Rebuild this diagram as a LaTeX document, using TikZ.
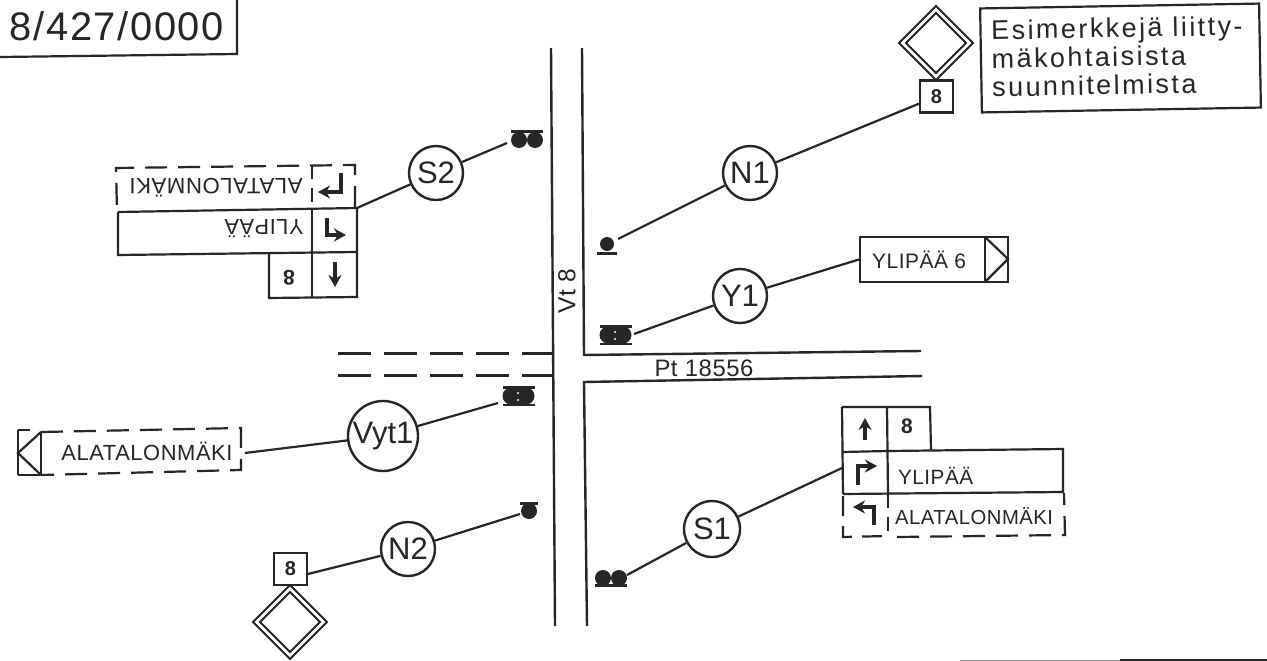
\documentclass[tikz,border=0pt]{standalone}
\usepackage{fontspec}
\usepackage{graphicx}
\setmainfont{Liberation Sans}
\newfontfamily\lsp[LetterSpace=2.5]{Liberation Sans}
\newfontfamily\lspb[LetterSpace=4]{Liberation Sans}
\newfontfamily\lspt[LetterSpace=9]{Liberation Sans}
\newcommand{\fitw}[2]{\resizebox{#1pt}{!}{\fontsize{20}{24}\lsp #2}}
\definecolor{ink}{HTML}{262626}
\usetikzlibrary{arrows.meta}
\tikzset{
  every path/.style={line width=2.2pt,color=ink,line join=miter},
  rd/.style={line width=2.4pt},
  sig/.style={draw=none,fill=ink},
  dsh/.style={dash pattern=on 22pt off 11pt},
  dshl/.style={dash pattern=on 14pt off 9pt},
  ring/.style={circle,draw=ink,line width=2.4pt,inner sep=0pt,minimum size=54pt,text=ink,font=\fontsize{31}{36}\selectfont},
  lbl/.style={inner sep=0pt,text=ink},
  rnum/.style={rectangle,draw=ink,line width=2.2pt,inner sep=0pt,minimum width=33pt,minimum height=32pt,text=ink,font=\fontsize{20}{24}\selectfont\bfseries},
  arr/.style={line width=3.4pt,-{Stealth[length=12pt,width=13pt]}},
}
\newcommand{\sigpair}[2]{%
  \fill[sig] (#1-16,#2-10) rectangle (#1+16,#2-7.5);
  \fill[sig] (#1-16,#2+7.5) rectangle (#1+16,#2+10);
  \fill[sig] (#1-8,#2) circle (8.5pt) (#1+7,#2) circle (8.5pt);
  \fill[sig] (#1-8,#2-8) rectangle (#1+7,#2+8);
  \fill[white] (#1-1,#2-3) circle (1.2pt) (#1-1,#2+4) circle (1.2pt);
}
\newcommand{\diam}[2]{%
  \draw[line width=2pt] (#1,#2-37) -- (#1+37,#2) -- (#1,#2+37) -- (#1-37,#2) -- cycle;
  \draw[line width=2pt] (#1,#2-30) -- (#1+30,#2) -- (#1,#2+30) -- (#1-30,#2) -- cycle;
}
\begin{document}
\begin{tikzpicture}[x=1pt,y=-1pt]
\useasboundingbox (0,0) rectangle (1267,661);
\fill[white] (0,0) rectangle (1267,661);

% reference number box
\draw (237,0) -- (237,54) -- (0,57);
\node[lbl] (ref) at (117,26) {\resizebox{214pt}{!}{\fontsize{39}{44}\lspb 8/427/0000}};

% title box
\node[draw=ink,line width=2.2pt,minimum width=279pt,minimum height=104pt,rotate=1,inner sep=0pt] (title) at (1120.5,58) {};
\node[lbl,anchor=north west,align=left,rotate=1,font=\fontsize{27}{28.5}\lspt] (titletext) at (990,19) {Esimerkkejä liitty-\\mäkohtaisista\\suunnitelmista};

% roads
\draw[rd] (551,48) -- (555,626);
\draw[rd] (582,48) -- (584,355) -- (921,351);
\draw[rd] (922,376) -- (584,382) -- (587,626);
\draw[line width=3pt,dash pattern=on 33pt off 13pt] (338,353.5) -- (553,353.5);
\draw[line width=3pt,dash pattern=on 33pt off 13pt] (338,375.5) -- (553,375.5);
\node[lbl,rotate=90] (vt) at (567,291) {\resizebox{45pt}{!}{\fontsize{20}{24}\lsp Vt 8}};
\node[lbl] (pt) at (704,368) {\resizebox{99pt}{!}{\fontsize{20}{24}\lsp Pt 18556}};

% circles
\node[ring] (S2) at (436,173) {S2};
\node[ring] (N1) at (750,173) {N1};
\node[ring] (Y1) at (740,296) {Y1};
\node[ring,minimum size=70pt] (Vyt1) at (383,436) {Vyt1};
\node[ring] (N2) at (408,549) {N2};
\node[ring,minimum size=56pt] (S1) at (712,529) {S1};

% signal heads
\fill[sig] (511,130) rectangle (543,133);
\fill[sig] (519,140) circle (8pt) (535,140) circle (8pt);
\fill[sig] (607,244) circle (7pt);
\fill[sig] (597,252) rectangle (617,255);
\sigpair{616}{335}
\sigpair{519}{396}
\fill[sig] (520,502) rectangle (538,505);
\fill[sig] (529,511) circle (8pt);
\fill[sig] (603,578) circle (8pt) (619,578) circle (8pt);
\fill[sig] (595,584) rectangle (627,587);

% S2 sign
\draw[dsh] (355,208) -- (355,165) -- (116,168) -- (117,211);
\draw[dshl] (312,165) -- (312,209);
\draw (118,212) -- (357,208);
\draw (118,212) -- (118,255) -- (357,252);
\draw (357,208) -- (357,297) -- (269,298) -- (269,254);
\draw (312,209) -- (312,297);
\node[lbl,rotate=180] (s2t1) at (216,188) {\fitw{173}{ALATALONMÄKI}};
\node[lbl,rotate=180] (s2t2) at (264,229) {\fitw{79}{YLIPÄÄ}};
\node[lbl,rotate=180,font=\fontsize{21}{24}\selectfont\bfseries] (s2t3) at (289,278) {8};
\draw[arr] (341,173) -- (341,192) -- (318,192);
\draw[arr] (327,218) -- (327,235) -- (346,235);
\draw[arr] (335,262) -- (335,287);

% S1 sign
\draw (842,407) -- (930,407) -- (931,450);
\draw (842,407) -- (843,494);
\draw (887,407) -- (888,494);
\draw (842,452) -- (888,451) -- (1063,449) -- (1063,492) -- (843,494);
\draw[dash pattern=on 20pt off 10pt] (843,496) -- (843,537) -- (888,536);
\draw[dshl] (888,494) -- (888,536);
\draw[dsh] (897,537) -- (1065,535) -- (1064,493);
\node[lbl] (s1t3) at (907,426) {\fontsize{21}{24}\selectfont\bfseries 8};
\node[lbl,anchor=west] (s1t1) at (897,476) {\fitw{75}{YLIPÄÄ}};
\node[lbl,anchor=west] (s1t2) at (894,516) {\fitw{158}{ALATALONMÄKI}};
\draw[arr] (865,440) -- (865,418);
\draw[arr] (858,485) -- (858,466) -- (877,466);
\draw[arr] (874,525) -- (874,507) -- (853,507);

% Y1 sign
\node[draw=ink,line width=2.2pt,inner sep=0pt,minimum width=148pt,minimum height=45pt] (y1box) at (934,259.5) {};
\draw (985,237) -- (985,282);
\draw (985,237) -- (1008,259) -- (985,282);
\node[lbl,anchor=west] (y1t) at (871,260) {\resizebox{94pt}{!}{\fontsize{20}{24}\lsp YLIPÄÄ 6}};

% Vyt1 sign
\draw[dsh] (41,432) -- (241,428) -- (241,470) -- (41,475);
\draw (18,430) -- (30,430);
\draw (41,432) -- (41,475) -- (18,475);
\draw (18,430) -- (18,475);
\draw (41,432) -- (18,453) -- (41,475);
\node[lbl] (vt1) at (147,451) {\fitw{171}{ALATALONMÄKI}};

% route-8 signs with priority diamonds
\node[rnum] (n1box) at (936.5,96.5) {8};
\diam{936}{43}
\node[rnum] (n2box) at (290.5,569) {8};
\diam{290}{622}

% connector free ends
\coordinate (s2sig) at (507,143);
\coordinate (s2sign) at (357,208);
\coordinate (n1sig) at (618,239);
\coordinate (y1sig) at (634,334);
\coordinate (vsig) at (498,403);
\coordinate (vsign) at (245,453);
\coordinate (n2sig) at (520,514);
\coordinate (n2sign) at (308,574);
\coordinate (s1sig) at (627,575);
\coordinate (s1sign) at (842,468);

% connectors
\draw (s2sig) -- (S2);
\draw (S2) -- (s2sign);
\draw (n1sig) -- (N1);
\draw (N1) -- (n1box);
\draw (y1sig) -- (Y1);
\draw (Y1) -- (y1box.west);
\draw (vsig) -- (Vyt1);
\draw (Vyt1) -- (vsign);
\draw (n2sig) -- (N2);
\draw (N2) -- (n2sign);
\draw (s1sig) -- (S1);
\draw (S1) -- (s1sign);

% scan edge
\draw[line width=1pt,ink!50] (960,660) -- (1120,660);
\draw[line width=2pt] (1120,660) -- (1267,660);
\end{tikzpicture}
\end{document}
